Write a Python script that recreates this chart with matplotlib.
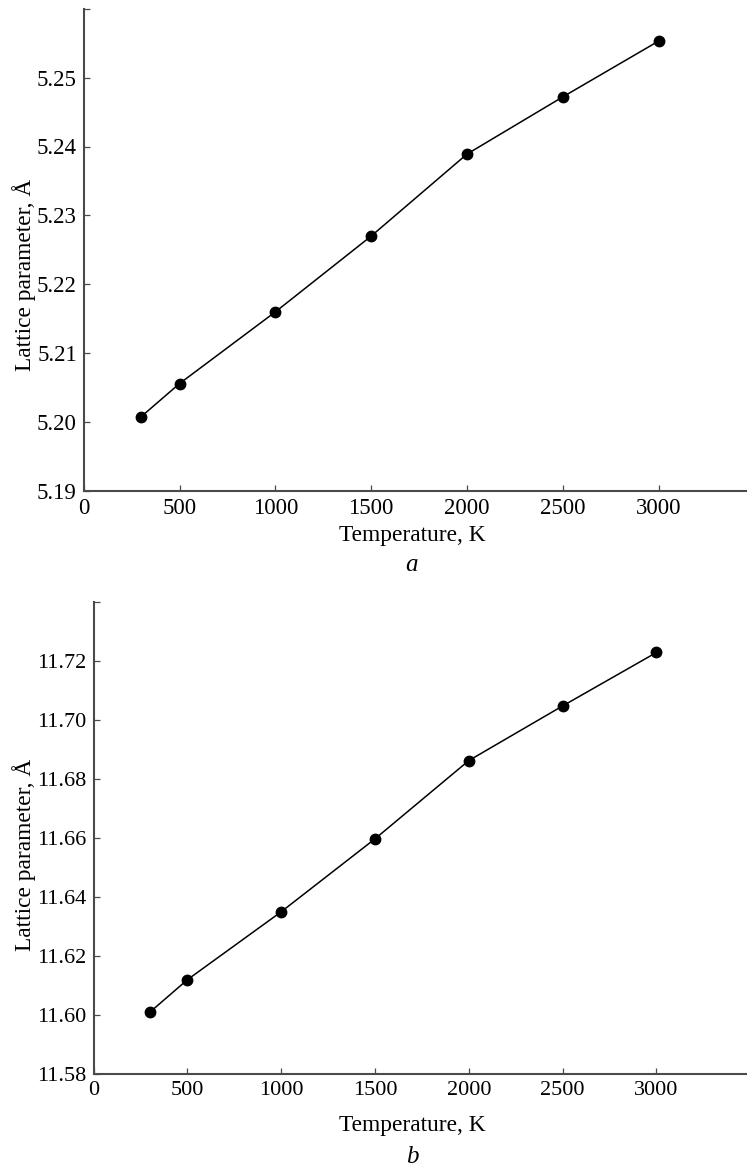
import matplotlib
matplotlib.use("Agg")
import matplotlib.pyplot as plt
from matplotlib.ticker import FixedLocator, FuncFormatter

plt.rcParams['font.family'] = ['Liberation Serif', 'DejaVu Serif']

temperature = [300, 500, 1000, 1500, 2000, 2500, 3000]
lattice_a = [5.2008, 5.2056, 5.2160, 5.2270, 5.2389, 5.2472, 5.2553]
lattice_b = [11.601, 11.612, 11.635, 11.6597, 11.6862, 11.7047, 11.7228]

xticks = [0, 500, 1000, 1500, 2000, 2500, 3000]
yticks_a = [5.19, 5.20, 5.21, 5.22, 5.23, 5.24, 5.25, 5.26]
yticks_b = [11.58, 11.60, 11.62, 11.64, 11.66, 11.68, 11.70, 11.72, 11.74]

W, H = 747, 1171
fig = plt.figure(figsize=(W / 100, H / 100), dpi=100)

def px_axes(left, bottom, right, top):
    return fig.add_axes([left / W, 1 - bottom / H, (right - left) / W, (bottom - top) / H])

ax1 = px_axes(83.8, 491, 754.4, 8.7)
ax2 = px_axes(93.6, 1074.2, 750.2, 601.7)

spine_col = '#4a4a4a'
for ax, y, yt, ylim, fs in [(ax1, lattice_a, yticks_a, (5.19, 5.26), 16.5),
                            (ax2, lattice_b, yticks_b, (11.58, 11.74), 16)]:
    ax.plot(temperature, y, color='black', lw=1.1, marker='o', ms=7.5,
            mfc='black', mec='black', zorder=3)
    ax.set_xlim(0, 3500)
    ax.set_ylim(*ylim)
    for s in ['top', 'right']:
        ax.spines[s].set_visible(False)
    for s in ['left', 'bottom']:
        ax.spines[s].set_color(spine_col)
        ax.spines[s].set_linewidth(1.5)
    ax.xaxis.set_major_locator(FixedLocator(xticks))
    ax.yaxis.set_major_locator(FixedLocator(yt))
    top_val = yt[-1]
    ax.yaxis.set_major_formatter(FuncFormatter(
        lambda v, p, tv=top_val: '' if abs(v - tv) < 1e-9 else f'{v:.2f}'))
    ax.tick_params(direction='in', length=4.5, width=0.9, color=spine_col,
                   labelsize=fs, labelcolor='black')
    ax.tick_params(axis='x', pad=5)
    ax.tick_params(axis='y', pad=5)
    ax.patch.set_alpha(0)

# y labels
fig.text(24 / W, 1 - 275 / H, 'Lattice parameter, Å', rotation=90,
         ha='center', va='center', fontsize=16.8)
fig.text(24 / W, 1 - 855 / H, 'Lattice parameter, Å', rotation=90,
         ha='center', va='center', fontsize=16.8)

# x labels and panel letters
fig.text(412 / W, 1 - 535 / H, 'Temperature, K', ha='center', va='center', fontsize=16.8)
fig.text(412 / W, 1 - 565 / H, 'a', ha='center', va='center', fontsize=18, style='italic')
fig.text(412 / W, 1 - 1126 / H, 'Temperature, K', ha='center', va='center', fontsize=16.8)
fig.text(412 / W, 1 - 1157 / H, 'b', ha='center', va='center', fontsize=18, style='italic')

fig.savefig('out.png', dpi=100, facecolor='white')
